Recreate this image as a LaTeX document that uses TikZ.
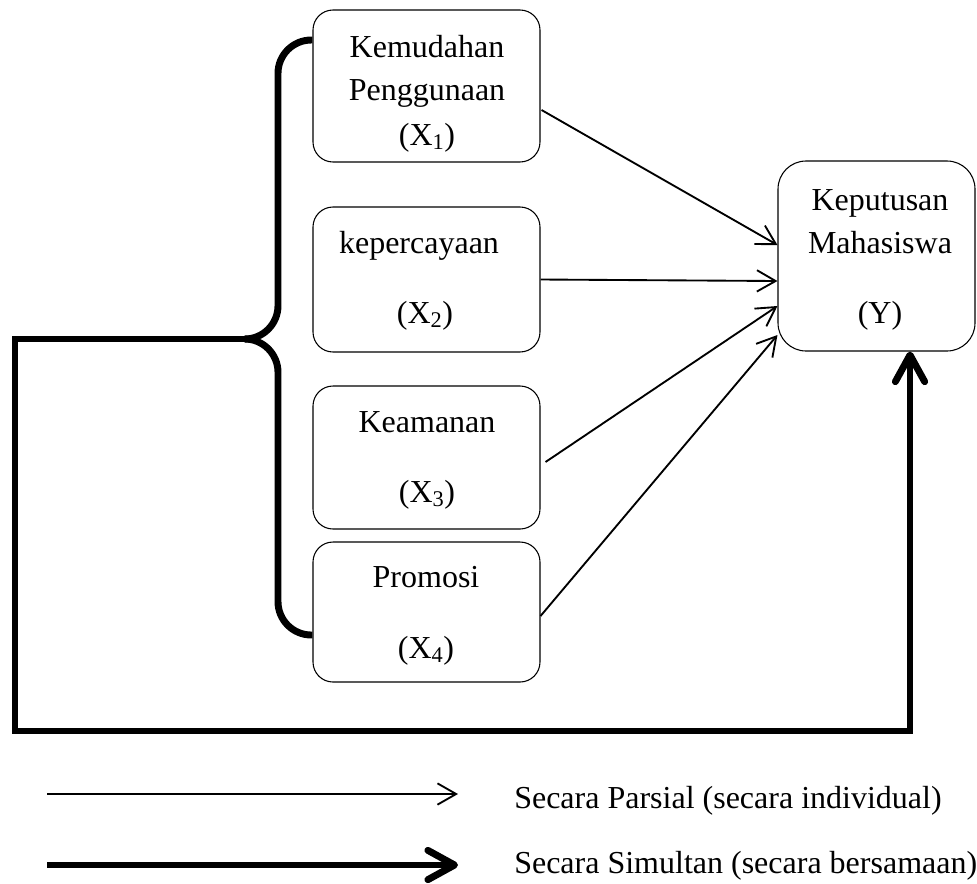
\documentclass[tikz,border=0pt]{standalone}
\usepackage{fontspec}
\setmainfont{Liberation Serif}
\usetikzlibrary{arrows.meta,calc}
\begin{document}
\begin{tikzpicture}[x=0.75pt,y=-0.75pt,
  box/.style={draw,line width=0.8pt,rounded corners=15pt,minimum width=170.25pt,inner sep=0pt},
  ybox/.style={draw,line width=0.8pt,rounded corners=21pt,minimum width=147.75pt,minimum height=142.5pt,inner sep=0pt},
  txt/.style={font=\fontsize{24}{29}\selectfont,anchor=base,inner sep=0pt},
  ltxt/.style={font=\fontsize{24}{29}\selectfont,anchor=base west,inner sep=0pt},
  partial/.style={line width=1.4pt,-{Straight Barb[length=14pt,width=16pt]}},
  simul/.style={line width=5.2pt},
  simularrow/.style={line width=5.2pt,-{Straight Barb[length=20pt,width=22pt,round]}},
]
\useasboundingbox (0,0) rectangle (977,883);

% boxes
\node[box,minimum height=114pt]    (X1) at (426.5,86) {};
\node[box,minimum height=108.75pt] (X2) at (426.5,279.5) {};
\node[box,minimum height=107.25pt] (X3) at (426.5,457.5) {};
\node[box,minimum height=105pt]    (X4) at (426.5,612) {};
\node[ybox] (Y) at (876.5,256) {};

% texts
\node[txt] (t11) at (427,57) {Kemudahan};
\node[txt] (t12) at (427,100) {Penggunaan};
\node[txt] (t13) at (427,145) {(X\textsubscript{1})};
\node[txt] (t21) at (419,253) {kepercayaan};
\node[txt] (t22) at (425,323) {(X\textsubscript{2})};
\node[txt] (t31) at (427,432) {Keamanan};
\node[txt] (t32) at (427,502) {(X\textsubscript{3})};
\node[txt] (t41) at (426,587) {Promosi};
\node[txt] (t42) at (426,658) {(X\textsubscript{4})};
\node[txt] (ty1) at (880,210) {Keputusan};
\node[txt] (ty2) at (880,253) {Mahasiswa};
\node[txt] (ty3) at (880,323) {(Y)};

% partial arrows
\draw[partial] ($(X1.east)+(1,24)$) -- ($(Y.west)+(0,-11)$);
\draw[partial] (X2.east) -- ($(Y.west)+(0,25)$);
\draw[partial] ($(X3.east)+(5,4.5)$) -- ($(Y.west)+(0,50)$);
\draw[partial] ($(X4.east)+(0,4)$) -- ($(Y.west)+(0,79)$);

% brace
\coordinate (tip) at (245,339);
\coordinate (fl) at (15,339);
\coordinate (fr) at (910,731);
\draw[simul,rounded corners=25pt] ($(X1.west)+(0,-46)$) -| (278,339) -- (tip);
\draw[simul,rounded corners=25pt] (tip) -| (278,635) -- ($(X4.west)+(0,23)$);

% frame to Y
\draw[simularrow,line join=miter] (tip) -- (fl) |- (fr) -- (fr |- Y.south);

% legend
\coordinate (pa) at (47,794);
\coordinate (pb) at (458,794);
\coordinate (sa) at (47,865);
\coordinate (sb) at (458,865);
\draw[partial] (pa) -- (pb);
\draw[simularrow] (sa) -- (sb);
\node[ltxt] (lp) at (514,808) {Secara Parsial (secara individual)};
\node[ltxt] (ls) at (514,873) {Secara Simultan (secara bersamaan)};
\end{tikzpicture}
\end{document}
